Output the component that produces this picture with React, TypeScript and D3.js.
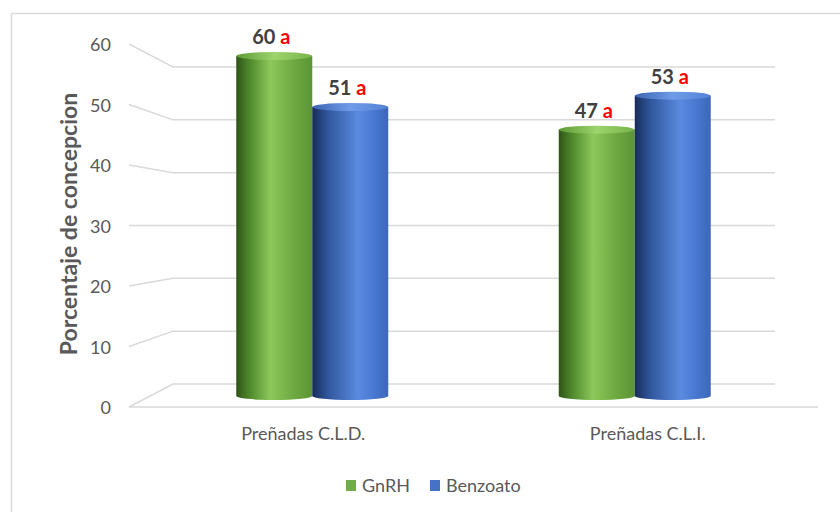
import React from "react";
import * as d3 from "d3";

const categories = ["Preñadas C.L.D.", "Preñadas C.L.I."];
const seriesNames = ["GnRH", "Benzoato"];
const gnrhValues = [60, 47];
const benzoatoValues = [51, 53];
const letters = ["a", "a", "a", "a"];
const yTicks = [0, 10, 20, 30, 40, 50, 60];

const W = 840;
const H = 512;
const FONT = "Lato, 'Open Sans', 'Liberation Sans', sans-serif";

export default function App() {
  const yFront = d3.scaleLinear().domain([0, 60]).range([407, 44]);
  const yBack = d3.scaleLinear().domain([0, 60]).range([384, 67]);
  const yMid = d3.scaleLinear().domain([0, 60]).range([396, 56]);
  const frontX0 = 129, frontX1 = 818, backX0 = 173, backX1 = 775;
  const x0 = d3.scaleBand<string>().domain(categories).range([151, 796]).padding(0);
  const xFront = d3.scaleBand<string>().domain(categories).range([frontX0, frontX1]).padding(0);
  const groupW = 152;
  const x1 = d3.scaleBand<string>().domain(seriesNames).range([0, groupW]).padding(0);
  const values = [gnrhValues, benzoatoValues];
  const gradIds = ["gGreen", "gBlue"];
  const topIds = ["tGreen", "tBlue"];
  const legendColors = ["#70ad47", "#4472c4"];
  const gridColor = "#d9d9d9";
  const ry = 4;

  const bars: any[] = [];
  categories.forEach((c, ci) => {
    seriesNames.forEach((s, si) => {
      const v = values[si][ci];
      const xl = (x0(c) as number) + (x0.bandwidth() - groupW) / 2 + (x1(s) as number);
      const w = x1.bandwidth();
      bars.push({ c, s, si, ci, v, xl, w, yt: yMid(v), yb: yMid(0) });
    });
  });

  return (
    <svg width={W} height={H} style={{ position: "absolute", left: 0, top: 0, background: "#fff" }}>
      <defs>
        <linearGradient id="gGreen" x1="0" x2="1" y1="0" y2="0">
          <stop offset="0" stopColor="#2f5418" />
          <stop offset="0.18" stopColor="#4f8a2c" />
          <stop offset="0.45" stopColor="#8cc85a" />
          <stop offset="0.75" stopColor="#6fa942" />
          <stop offset="1" stopColor="#5b9434" />
        </linearGradient>
        <linearGradient id="gBlue" x1="0" x2="1" y1="0" y2="0">
          <stop offset="0" stopColor="#182d57" />
          <stop offset="0.2" stopColor="#2f559c" />
          <stop offset="0.6" stopColor="#5a8be0" />
          <stop offset="0.85" stopColor="#4574cc" />
          <stop offset="1" stopColor="#3d68b8" />
        </linearGradient>
        <linearGradient id="tGreen" x1="0" x2="1" y1="0" y2="0">
          <stop offset="0" stopColor="#5d9a36" />
          <stop offset="0.5" stopColor="#9dd46c" />
          <stop offset="1" stopColor="#78b44a" />
        </linearGradient>
        <linearGradient id="tBlue" x1="0" x2="1" y1="0" y2="0">
          <stop offset="0" stopColor="#3c64b0" />
          <stop offset="0.5" stopColor="#6f9be8" />
          <stop offset="1" stopColor="#5482d6" />
        </linearGradient>
      </defs>
      {/* frame */}
      <line x1={11.5} y1={13.5} x2={W} y2={13.5} stroke={gridColor} strokeWidth={1.5} />
      <line x1={11.5} y1={13.5} x2={11.5} y2={H} stroke={gridColor} strokeWidth={1.5} />

      {/* gridlines */}
      {yTicks.map((t) => (
        <g key={t}>
          <polyline
            points={`${frontX0},${yFront(t)} ${backX0},${yBack(t)} ${backX1},${yBack(t)}`}
            fill="none"
            stroke={gridColor}
            strokeWidth={1.5}
          />
          <text
            x={111}
            y={yFront(t)}
            textAnchor="end"
            dominantBaseline="central"
            fontFamily={FONT}
            fontSize={18}
            fill="#595959"
          >
            {t}
          </text>
        </g>
      ))}
      <line x1={frontX0} y1={yFront(0)} x2={frontX1} y2={yFront(0)} stroke={gridColor} strokeWidth={1.5} />

      {/* bars */}
      {bars.map((b, i) => {
        const rx = b.w / 2;
        const d = `M${b.xl},${b.yt} L${b.xl},${b.yb} A${rx},${ry} 0 0 0 ${b.xl + b.w},${b.yb} L${b.xl + b.w},${b.yt} Z`;
        return (
          <g key={i}>
            <path d={d} fill={`url(#${gradIds[b.si]})`} />
            <ellipse cx={b.xl + rx} cy={b.yt} rx={rx} ry={ry} fill={`url(#${topIds[b.si]})`} />
            <text
              x={b.xl + rx - 3}
              y={b.yt - 20}
              textAnchor="middle"
              dominantBaseline="central"
              fontFamily={FONT}
              fontSize={20}
              fontWeight="bold"
            >
              <tspan fill="#404040">{b.v} </tspan>
              <tspan fill="#ff0000">{letters[i]}</tspan>
            </text>
          </g>
        );
      })}

      {/* category labels */}
      {categories.map((c) => (
        <text
          key={c}
          x={(xFront(c) as number) + xFront.bandwidth() / 2 + 2}
          y={433}
          textAnchor="middle"
          dominantBaseline="central"
          fontFamily={FONT}
          fontSize={18}
          fill="#595959"
        >
          {c}
        </text>
      ))}

      {/* axis title */}
      <text
        transform={`translate(68,224) rotate(-90)`}
        textAnchor="middle"
        dominantBaseline="central"
        fontFamily={FONT}
        fontSize={23}
        fontWeight="bold"
        fill="#595959"
      >
        Porcentaje de concepcion
      </text>

      {/* legend */}
      {seriesNames.map((s, i) => {
        const lx = [346, 430][i];
        return (
          <g key={s}>
            <rect x={lx} y={480} width={10} height={11} fill={legendColors[i]} />
            <text
              x={lx + 16}
              y={485}
              dominantBaseline="central"
              fontFamily={FONT}
              fontSize={18}
              fill="#595959"
            >
              {s}
            </text>
          </g>
        );
      })}
    </svg>
  );
}
